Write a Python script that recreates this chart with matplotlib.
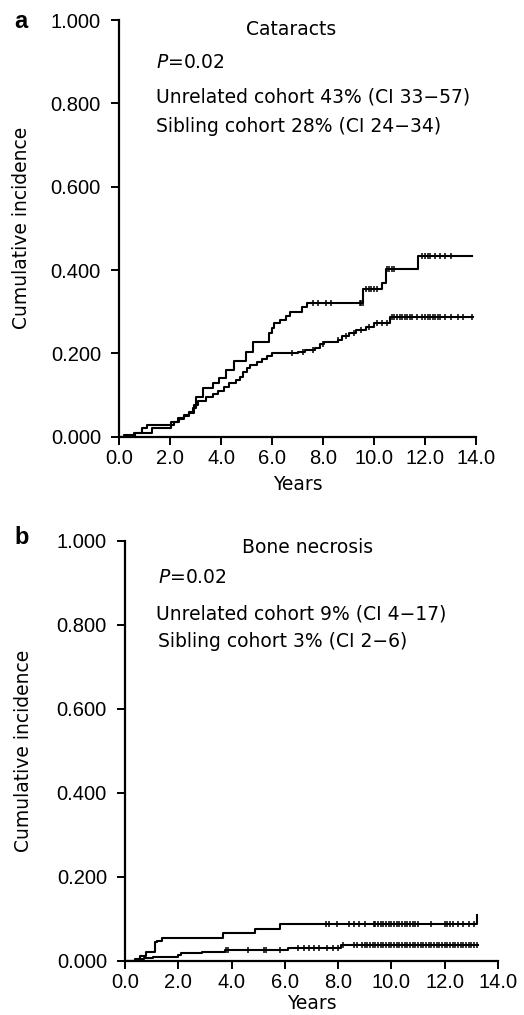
import matplotlib
matplotlib.use("Agg")
import matplotlib.pyplot as plt
from matplotlib.ticker import FormatStrFormatter

plt.rcParams['font.family'] = ['Liberation Sans', 'DejaVu Sans']

# ---------------- Panel a: Cataracts ----------------
a_unrel_t = [0.0, 0.63, 1.28, 2.05, 2.3, 2.55, 2.75, 2.9, 3.0, 3.3, 3.67, 3.93, 4.19, 4.5,
             4.98, 5.24, 5.9, 6.0, 6.08, 6.33, 6.55, 6.72, 7.16, 7.38, 9.58, 10.3, 10.46, 11.74, 13.83]
a_unrel_v = [0.0, 0.008, 0.02, 0.036, 0.046, 0.052, 0.06, 0.07, 0.096, 0.118, 0.129, 0.14, 0.16, 0.182,
             0.204, 0.227, 0.248, 0.26, 0.272, 0.28, 0.29, 0.30, 0.312, 0.322, 0.354, 0.368, 0.402, 0.434, 0.434]
a_unrel_cens = [7.6, 7.8, 8.1, 8.3, 9.45, 9.5, 9.55, 9.7, 9.8, 9.9, 10.0, 10.1,
                10.5, 10.6, 10.7, 10.8, 11.9, 12.0, 12.1, 12.2, 12.4, 12.6, 12.8, 13.0]

a_sib_t = [0.0, 0.2, 0.6, 0.9, 1.1, 2.15, 2.35, 2.55, 2.75, 2.95, 3.1, 3.4, 3.7, 3.9, 4.1, 4.3, 4.6,
           4.75, 4.88, 5.0, 5.15, 5.4, 5.6, 5.8, 6.0, 7.0, 7.3, 7.7, 7.9, 8.05, 8.6, 8.75, 9.0, 9.3,
           9.7, 10.0, 10.63, 13.9]
a_sib_v = [0.0, 0.004, 0.01, 0.02, 0.028, 0.036, 0.042, 0.05, 0.058, 0.075, 0.085, 0.095, 0.102, 0.11,
           0.12, 0.13, 0.136, 0.144, 0.155, 0.165, 0.172, 0.18, 0.186, 0.193, 0.2, 0.204, 0.207, 0.212,
           0.222, 0.228, 0.232, 0.242, 0.25, 0.256, 0.264, 0.272, 0.288, 0.288]
a_sib_cens = [6.8, 7.2, 7.6, 8.0, 8.6, 8.9, 9.2, 9.5, 9.8, 10.1, 10.3, 10.5,
              10.7, 10.8, 10.9, 11.0, 11.1, 11.2, 11.3, 11.4, 11.5, 11.7, 11.9, 12.0, 12.1, 12.2,
              12.3, 12.4, 12.5, 12.6, 12.8, 13.0, 13.3, 13.5, 13.85]

# ---------------- Panel b: Bone necrosis ----------------
b_unrel_t = [0.0, 0.375, 0.56, 0.79, 1.125, 1.21, 1.375, 3.69, 4.875, 5.81, 13.21, 13.21]
b_unrel_v = [0.0, 0.004, 0.011, 0.021, 0.044, 0.048, 0.053, 0.065, 0.0755, 0.0866, 0.0866, 0.11]
b_unrel_cens = [7.55, 7.65, 7.95, 8.4, 8.6, 8.8, 9.0, 9.35, 9.4, 9.5, 9.6, 9.7, 9.8, 9.9, 10.0,
                10.1, 10.2, 10.3, 10.4, 10.5, 10.6, 10.7, 10.8, 10.9, 11.0, 11.5, 12.0, 12.1,
                12.2, 12.3, 12.5, 12.7, 12.9, 13.1]

b_sib_t = [0.0, 0.45, 0.7, 1.05, 2.0, 2.1, 2.9, 3.75, 5.4, 6.12, 8.12, 13.25]
b_sib_v = [0.0, 0.003, 0.006, 0.0095, 0.013, 0.0176, 0.021, 0.025, 0.026, 0.0295, 0.037, 0.037]
b_sib_cens = [3.8, 3.85, 4.6, 5.2, 5.3, 5.8, 6.5, 6.7, 6.9, 7.1, 7.3, 7.6, 7.8, 8.0,
              8.2, 8.6, 8.7, 8.9, 9.0, 9.1, 9.2, 9.3, 9.4, 9.5, 9.6, 9.7, 9.8, 9.9, 10.0,
              10.1, 10.2, 10.3, 10.4, 10.5, 10.6, 10.7, 10.8, 10.9, 11.0, 11.1, 11.2, 11.3,
              11.4, 11.5, 11.6, 11.7, 11.8, 11.9, 12.0, 12.1, 12.2, 12.3, 12.4, 12.5, 12.6,
              12.7, 12.8, 12.9, 13.0, 13.1, 13.2]

x_ticks = [0, 2, 4, 6, 8, 10, 12, 14]
y_ticks = [0.0, 0.2, 0.4, 0.6, 0.8, 1.0]

panels = [
    dict(rect=[119/524, 1-436.7/1015, (476-119)/524, (436.7-20)/1015], letter='a', letter_y=22,
         title='Cataracts', title_x=6.75, title_y=0.978, xpad=5, ypad=14,
         lines=[(1.45, 0.899, r'$P$=0.02'), (1.45, 0.815, 'Unrelated cohort 43% (CI 33\u221257)'),
                (1.45, 0.745, 'Sibling cohort 28% (CI 24\u221234)')],
         curves=[(a_unrel_t, a_unrel_v, a_unrel_cens), (a_sib_t, a_sib_v, a_sib_cens)]),
    dict(rect=[125/524, 1-960.7/1015, (498-125)/524, (960.7-540.7)/1015], letter='b', letter_y=538,
         title='Bone necrosis', title_x=6.86, title_y=0.984, xpad=1, ypad=17,
         lines=[(1.25, 0.912, r'$P$=0.02'), (1.16, 0.825, 'Unrelated cohort 9% (CI 4\u221217)'),
                (1.25, 0.761, 'Sibling cohort 3% (CI 2\u22126)')],
         curves=[(b_unrel_t, b_unrel_v, b_unrel_cens), (b_sib_t, b_sib_v, b_sib_cens)]),
]

fig = plt.figure(figsize=(5.24, 10.15), dpi=100)
tick_fs = 14.5
txt_fs = 13.5
txt_family = ['DejaVu Sans']
plt.rcParams['mathtext.fontset'] = 'dejavusans'
for p in panels:
    ax = fig.add_axes(p['rect'])
    for t, v, cens in p['curves']:
        ax.step(t, v, where='post', color='black', lw=1.5)
        cy = []
        for c in cens:
            val = v[0]
            for ti, vi in zip(t, v):
                if ti <= c:
                    val = vi
            cy.append(val)
        ax.plot(cens, cy, linestyle='none', marker='|', color='black', markersize=4, mew=1.1)
    ax.set_xlim(0, 14)
    ax.set_ylim(0, 1)
    ax.set_xticks(x_ticks)
    ax.set_yticks(y_ticks)
    ax.xaxis.set_major_formatter(FormatStrFormatter('%.1f'))
    ax.yaxis.set_major_formatter(FormatStrFormatter('%.3f'))
    for s in ['top', 'right']:
        ax.spines[s].set_visible(False)
    for s in ['left', 'bottom']:
        ax.spines[s].set_linewidth(1.6)
    ax.tick_params(direction='out', length=6, width=1.4, labelsize=tick_fs)
    ax.tick_params(axis='y', pad=7)
    ax.tick_params(axis='x', pad=3)
    ax.set_xlabel('Years', fontsize=txt_fs, family=txt_family, labelpad=p['xpad'])
    ax.set_ylabel('Cumulative incidence', fontsize=txt_fs, family=txt_family, labelpad=p['ypad'])
    ax.text(p['title_x'], p['title_y'], p['title'], ha='center', va='center',
            fontsize=txt_fs, family=txt_family)
    for x, y, s in p['lines']:
        ax.text(x, y, s, ha='left', va='center', fontsize=txt_fs, family=txt_family)
    fig.text(14/524, 1 - p['letter_y']/1015, p['letter'], ha='left', va='center',
             fontsize=17, fontweight='bold')

fig.savefig('out.png', dpi=100)
